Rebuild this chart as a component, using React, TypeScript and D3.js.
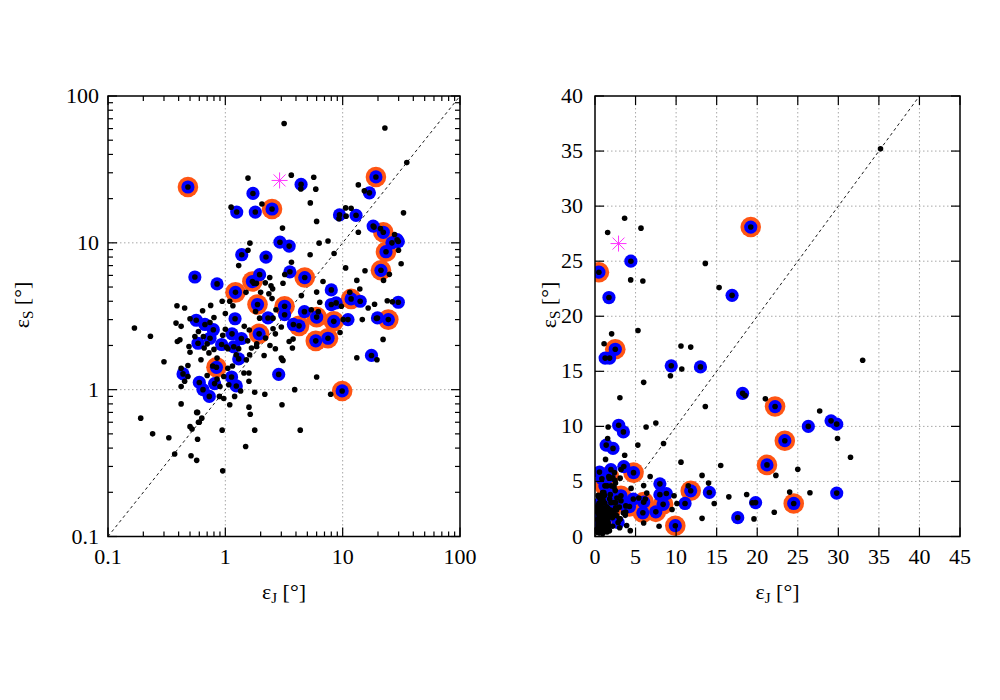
import React from 'react';
import * as d3 from 'd3';

// [eps_J, eps_S] in degrees
const orangePoints: [number, number][] = [
  [0.48, 24.0], [19.2, 28.1], [2.5, 17.0], [22.2, 11.8], [23.4, 8.7], [21.2, 6.5],
  [24.5, 3.0], [9.9, 0.98], [4.75, 5.8], [11.8, 4.15], [1.22, 4.6], [1.7, 5.45],
  [1.88, 3.8], [3.2, 3.7], [4.25, 2.72], [6.0, 3.12], [5.9, 2.15], [7.5, 2.24],
  [8.4, 2.92], [1.94, 2.4], [0.84, 1.42],
];

const bluePoints: [number, number][] = [
  [4.42, 25.0], [1.72, 21.7], [1.25, 16.2], [1.8, 16.2], [16.9, 21.9], [9.4, 15.5],
  [13.0, 15.4], [18.2, 13.0], [26.3, 10.0], [29.1, 10.5], [29.8, 10.2], [2.92, 10.1],
  [3.5, 9.5], [1.38, 8.3], [2.22, 8.0], [0.55, 5.85], [0.85, 5.25], [3.55, 6.35],
  [1.96, 6.07], [8.0, 4.78], [8.0, 3.8], [8.8, 3.9], [14.1, 4.0], [29.8, 3.94],
  [19.8, 3.08], [11.1, 3.0], [17.6, 1.71], [2.85, 1.27], [4.72, 3.4], [3.8, 2.78],
  [2.31, 3.08], [1.21, 3.04], [1.14, 2.4], [1.37, 2.23], [1.18, 1.96], [0.565, 2.97],
  [0.67, 2.78], [0.79, 2.56], [0.74, 2.24], [0.585, 2.07], [0.93, 2.03], [0.436, 1.28],
  [0.6, 1.12], [0.645, 1.0], [0.81, 1.1], [0.73, 0.9], [1.13, 1.22], [1.24, 1.06],
  [1.3, 1.62], [3.2, 3.24],
];

const blackPoints: [number, number][] = [
  [3.17, 65], [22.9, 60.5], [35.2, 35.2], [1.56, 27.6], [3.65, 28.9], [5.67, 28.0],
  [4.4, 23.3], [5.9, 23.2], [13.6, 24.8], [15.3, 22.6], [2.05, 18.4], [1.12, 17.5],
  [5.3, 18.7], [10.6, 17.3], [11.8, 17.2], [10.7, 15.2], [9.3, 14.6], [33.0, 16.0],
  [6.0, 14.0], [3.07, 12.6], [13.6, 11.8], [18.5, 12.8], [21.0, 12.5], [27.7, 11.4],
  [1.62, 9.95], [6.3, 9.95], [7.5, 10.3], [1.56, 8.9], [29.9, 8.9], [1.3, 7.0],
  [5.28, 8.3], [8.45, 8.45], [10.6, 6.75], [31.5, 7.2], [15.5, 6.45], [25.0, 6.1],
  [3.66, 7.38], [3.21, 6.08], [3.1, 5.3], [13.2, 5.55], [22.3, 5.55], [6.8, 5.45],
  [6.0, 4.62], [14.0, 4.85], [4.45, 4.37], [2.53, 4.86], [2.5, 4.17], [2.39, 5.8],
  [2.19, 5.34], [1.84, 5.3], [11.5, 4.6], [6.38, 3.94], [5.4, 3.5], [18.7, 3.82],
  [24.0, 4.03], [26.5, 3.97], [16.5, 3.6], [14.7, 3.0], [10.1, 3.0], [19.4, 3.06],
  [22.1, 2.2], [19.6, 1.6], [13.2, 1.65], [6.0, 1.22], [7.9, 0.93], [9.75, 3.7],
  [6.2, 3.4],
  [0.94, 4.0], [1.09, 4.0], [1.16, 3.73], [1.81, 3.41], [1.96, 3.07], [2.55, 3.07],
  [3.0, 2.67], [2.67, 2.4], [1.0, 2.58], [0.387, 3.73], [0.45, 3.6], [0.64, 3.45],
  [0.75, 3.75], [0.5, 3.04], [0.42, 2.7], [0.59, 2.49], [0.74, 2.87], [0.39, 2.13],
  [0.49, 1.97], [0.66, 1.92], [0.725, 1.78], [0.85, 1.64], [1.24, 1.73], [1.67, 1.92],
  [2.14, 1.71], [2.67, 1.9], [3.0, 1.64], [3.1, 1.58], [3.73, 1.92], [3.9, 1.0],
  [3.04, 0.79], [1.51, 1.6], [1.59, 1.3], [1.59, 1.14], [1.78, 0.96], [2.17, 0.93],
  [1.59, 0.76], [1.63, 0.68], [1.78, 0.53], [1.49, 0.41], [0.94, 0.53], [0.95, 0.28],
  [1.05, 1.4], [0.97, 1.23], [0.42, 1.4], [0.48, 1.23], [0.45, 1.14], [0.89, 0.9],
  [0.97, 0.87], [1.09, 0.79], [1.2, 0.9], [1.07, 1.08], [0.42, 0.8], [0.58, 0.7],
  [0.6, 0.6], [0.63, 0.64], [0.5, 0.56], [0.52, 0.54], [0.58, 0.46], [0.19, 0.64],
  [0.24, 0.5], [0.33, 0.47], [0.37, 0.365], [0.51, 0.355], [0.57, 0.33], [0.168, 2.63],
  [0.23, 2.31], [4.35, 0.53], [3.06, 1.6], [2.55, 2.6], [3.5, 2.13], [3.78, 2.21],
  [9.5, 2.45],
  [1.75, 5.3], [2.0, 4.6], [2.35, 4.5], [2.45, 5.1], [1.5, 4.6], [2.7, 3.5],
  [1.0, 3.3], [0.8, 3.1], [0.55, 2.3], [0.7, 2.05], [0.8, 1.88], [0.62, 1.6],
  [0.78, 1.45], [1.3, 1.9], [1.45, 2.7], [1.15, 1.45], [0.7, 1.25], [0.85, 1.18],
  [1.35, 0.98], [0.9, 1.05], [0.5, 1.8], [0.42, 1.05], [0.65, 2.3], [0.95, 2.35],
  [1.05, 1.9], [1.6, 2.55], [2.2, 2.25], [1.55, 2.15], [2.4, 2.0], [1.85, 2.05],
  [0.3, 1.55], [0.48, 1.46], [0.57, 0.7], [0.59, 0.6],
  [1.02, 1.95], [1.61, 1.73], [1.84, 1.97], [1.44, 1.3], [0.38, 2.84], [0.41, 2.19],
];

const starPoint: [number, number] = [2.9, 26.6];

const logMajor = [0.1, 1, 10, 100];
const logLabels = ['0.1', '1', '10', '100'];
const linXTicks = [0, 5, 10, 15, 20, 25, 30, 35, 40, 45];
const linYTicks = [0, 5, 10, 15, 20, 25, 30, 35, 40];

const FONT = "'Liberation Serif', 'Times New Roman', serif";
const ORANGE = '#ff5514';
const BLUE = '#0000ff';
const MAGENTA = '#ff33ff';
const GRID = '#a8a8a8';

const L = { x0: 108, x1: 460, y0: 96, y1: 536.5 };
const R = { x0: 595, x1: 960, y0: 96, y1: 536.5 };

type Sc = (v: number) => number;

function Markers({ xs, ys, id }: { xs: Sc; ys: Sc; id: string }) {
  const all = [...blackPoints, ...bluePoints, ...orangePoints];
  const sx = xs(starPoint[0]);
  const sy = ys(starPoint[1]);
  const a = 8;
  const d = 6;
  return (
    <g clipPath={`url(#${id})`}>
      {orangePoints.map((p, i) => (
        <circle key={'o' + i} cx={xs(p[0])} cy={ys(p[1])} r={10.3} fill={ORANGE} />
      ))}
      {[...orangePoints, ...bluePoints].map((p, i) => (
        <circle key={'b' + i} cx={xs(p[0])} cy={ys(p[1])} r={6.6} fill={BLUE} />
      ))}
      {all.map((p, i) => (
        <circle key={'k' + i} cx={xs(p[0])} cy={ys(p[1])} r={2.8} fill="#000" />
      ))}
      <g stroke={MAGENTA} strokeWidth={1}>
        <line x1={sx - a} y1={sy} x2={sx + a} y2={sy} />
        <line x1={sx} y1={sy - a} x2={sx} y2={sy + a} />
        <line x1={sx - d} y1={sy - d} x2={sx + d} y2={sy + d} />
        <line x1={sx - d} y1={sy + d} x2={sx + d} y2={sy - d} />
      </g>
    </g>
  );
}

function AxisTitle({ x, y, sub, rotate }: { x: number; y: number; sub: string; rotate?: boolean }) {
  return (
    <text
      transform={rotate ? `translate(${x},${y}) rotate(-90)` : `translate(${x},${y})`}
      textAnchor="middle"
      style={{ fontFamily: FONT, fontSize: 22 }}
      fill="#000"
    >
      ε<tspan style={{ fontSize: 15 }} dy={4}>{sub}</tspan>
      <tspan dy={-4}> [°]</tspan>
    </text>
  );
}

export default function App() {
  const lx = d3.scaleLog().domain([0.1, 100]).range([L.x0, L.x1]);
  const ly = d3.scaleLog().domain([0.1, 100]).range([L.y1, L.y0]);
  const rx = d3.scaleLinear().domain([0, 45]).range([R.x0, R.x1]);
  const ry = d3.scaleLinear().domain([0, 40]).range([R.y1, R.y0]);

  const logAll = lx.ticks();
  const isMajor = (v: number) => Math.abs(Math.log10(v) - Math.round(Math.log10(v))) < 1e-6;

  const maj = 9;
  const mnr = 5;
  const tickText = { fontFamily: FONT, fontSize: 22 };

  return (
    <svg
      width={1000}
      height={700}
      viewBox="0 0 1000 700"
      style={{ position: 'absolute', left: 0, top: 0, background: '#fff' }}
    >
      <rect x={0} y={0} width={1000} height={700} fill="#fff" />
      <defs>
        <clipPath id="clipL">
          <rect x={L.x0} y={L.y0} width={L.x1 - L.x0} height={L.y1 - L.y0} />
        </clipPath>
        <clipPath id="clipR">
          <rect x={R.x0} y={R.y0} width={R.x1 - R.x0} height={R.y1 - R.y0} />
        </clipPath>
      </defs>

      {/* LEFT PANEL */}
      <g>
        {logMajor.filter((v) => v > 0.1 && v < 100).map((v) => (
          <g key={'lg' + v} stroke={GRID} strokeWidth={1} strokeDasharray="1.5,2.5">
            <line x1={lx(v)} x2={lx(v)} y1={L.y0} y2={L.y1} />
            <line x1={L.x0} x2={L.x1} y1={ly(v)} y2={ly(v)} />
          </g>
        ))}
        <line
          x1={lx(0.1)} y1={ly(0.1)} x2={lx(100)} y2={ly(100)}
          stroke="#000" strokeWidth={0.9} strokeDasharray="3,3"
        />
        <Markers xs={lx} ys={ly} id="clipL" />
        <g stroke="#000" strokeWidth={1.2}>
          {logAll.map((v, i) => {
            const len = isMajor(v) ? maj : mnr;
            const x = lx(v);
            const y = ly(v);
            return (
              <g key={'lt' + i}>
                <line x1={x} x2={x} y1={L.y1} y2={L.y1 - len} />
                <line x1={x} x2={x} y1={L.y0} y2={L.y0 + len} />
                <line x1={L.x0} x2={L.x0 + len} y1={y} y2={y} />
                <line x1={L.x1} x2={L.x1 - len} y1={y} y2={y} />
              </g>
            );
          })}
        </g>
        <rect
          x={L.x0} y={L.y0} width={L.x1 - L.x0} height={L.y1 - L.y0}
          fill="none" stroke="#000" strokeWidth={1.5}
        />
        {logMajor.map((v, i) => (
          <text key={'lxl' + v} x={lx(v)} y={564} textAnchor="middle" style={tickText}>
            {logLabels[i]}
          </text>
        ))}
        {logMajor.map((v, i) => (
          <text key={'lyl' + v} x={99} y={ly(v) + 7} textAnchor="end" style={tickText}>
            {logLabels[i]}
          </text>
        ))}
        <AxisTitle x={(L.x0 + L.x1) / 2} y={599} sub="J" />
        <AxisTitle x={29} y={305} sub="S" rotate />
      </g>

      {/* RIGHT PANEL */}
      <g>
        {linXTicks.filter((v) => v > 0 && v < 45).map((v) => (
          <line key={'rgx' + v} x1={rx(v)} x2={rx(v)} y1={R.y0} y2={R.y1}
            stroke={GRID} strokeWidth={1} strokeDasharray="1.5,2.5" />
        ))}
        {linYTicks.filter((v) => v > 0 && v < 40).map((v) => (
          <line key={'rgy' + v} x1={R.x0} x2={R.x1} y1={ry(v)} y2={ry(v)}
            stroke={GRID} strokeWidth={1} strokeDasharray="1.5,2.5" />
        ))}
        <line
          x1={rx(0)} y1={ry(0)} x2={rx(40)} y2={ry(40)}
          stroke="#000" strokeWidth={0.9} strokeDasharray="3,3"
        />
        <Markers xs={rx} ys={ry} id="clipR" />
        <g stroke="#000" strokeWidth={1.2}>
          {linXTicks.map((v) => (
            <g key={'rtx' + v}>
              <line x1={rx(v)} x2={rx(v)} y1={R.y1} y2={R.y1 - maj} />
              <line x1={rx(v)} x2={rx(v)} y1={R.y0} y2={R.y0 + maj} />
            </g>
          ))}
          {linYTicks.map((v) => (
            <g key={'rty' + v}>
              <line x1={R.x0} x2={R.x0 + maj} y1={ry(v)} y2={ry(v)} />
              <line x1={R.x1} x2={R.x1 - maj} y1={ry(v)} y2={ry(v)} />
            </g>
          ))}
        </g>
        <rect
          x={R.x0} y={R.y0} width={R.x1 - R.x0} height={R.y1 - R.y0}
          fill="none" stroke="#000" strokeWidth={1.5}
        />
        {linXTicks.map((v) => (
          <text key={'rxl' + v} x={rx(v)} y={564} textAnchor="middle" style={tickText}>
            {String(v)}
          </text>
        ))}
        {linYTicks.map((v) => (
          <text key={'ryl' + v} x={583} y={ry(v) + 7} textAnchor="end" style={tickText}>
            {String(v)}
          </text>
        ))}
        <AxisTitle x={(R.x0 + R.x1) / 2} y={599} sub="J" />
        <AxisTitle x={556} y={305} sub="S" rotate />
      </g>
    </svg>
  );
}
